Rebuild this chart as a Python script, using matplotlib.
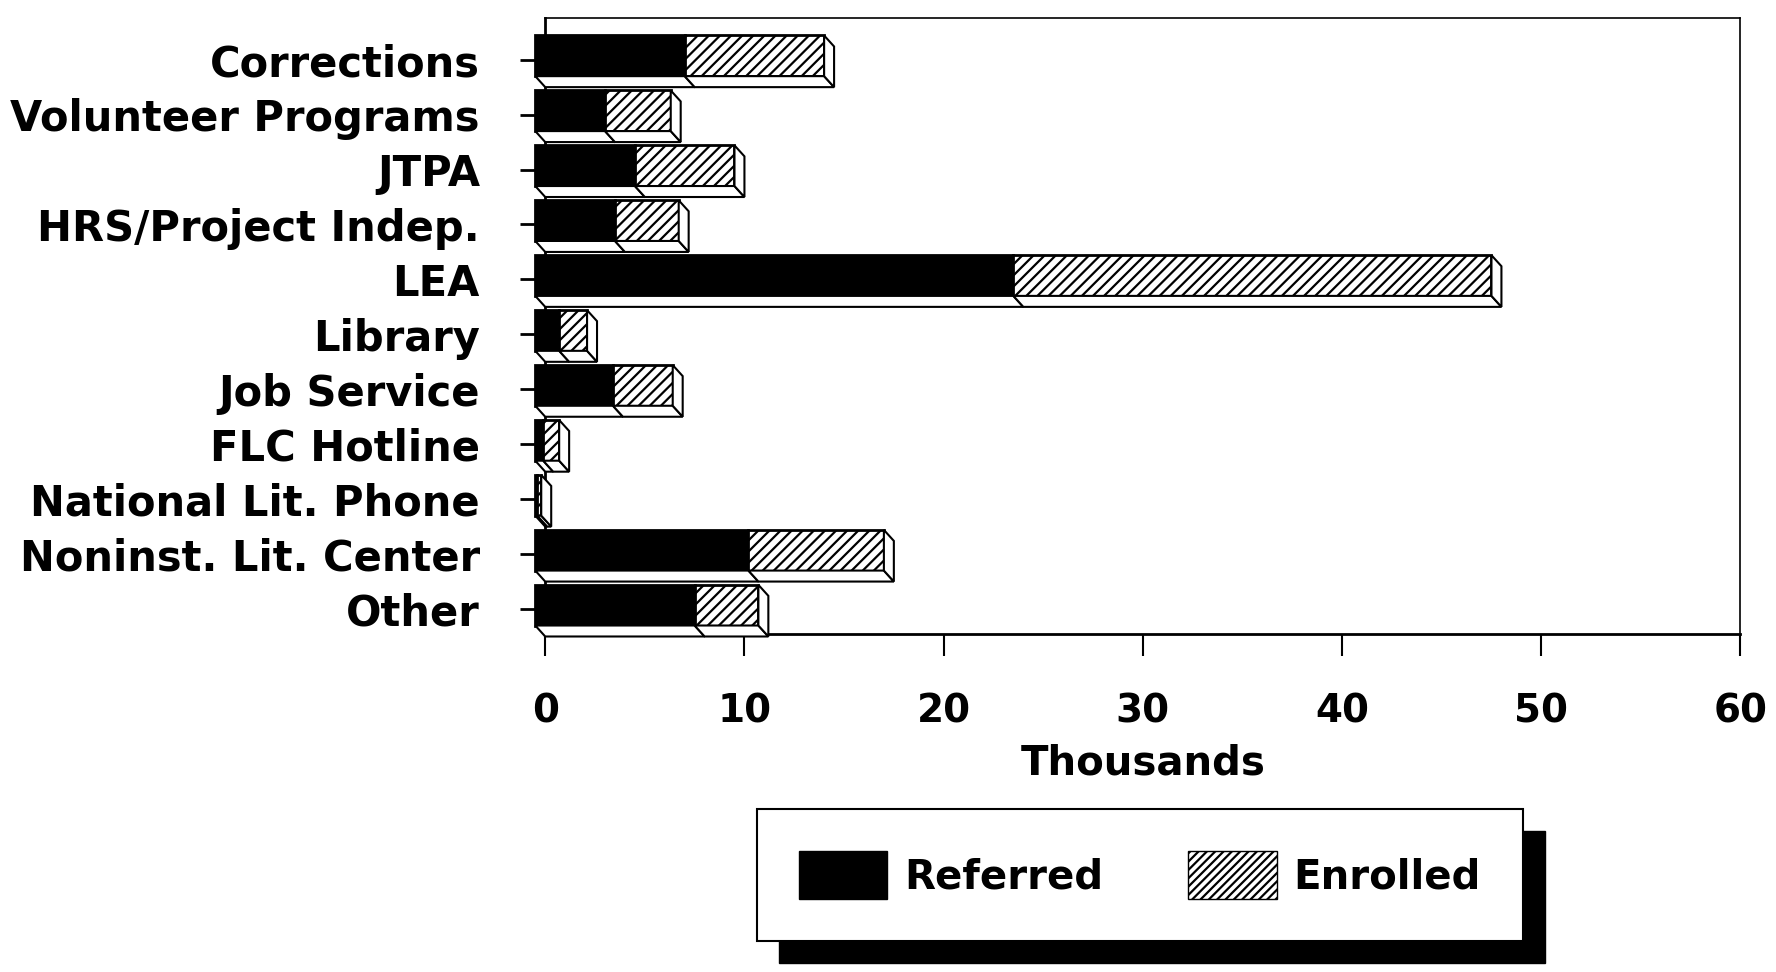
# stacked 3d-look bar chart: referrals vs enrollments by source
import numpy as np
import matplotlib.pyplot as plt
from matplotlib.patches import Patch, Rectangle
from matplotlib.transforms import IdentityTransform

categories = ['Corrections', 'Volunteer Programs', 'JTPA', 'HRS/Project Indep.', 'LEA',
              'Library', 'Job Service', 'FLC Hotline', 'National Lit. Phone',
              'Noninst. Lit. Center', 'Other']
referred = [7.5, 3.5, 5.0, 4.0, 24.0, 1.2, 3.9, 0.4, 0.1, 10.7, 8.0]   # thousands
enrolled = [7.0, 3.3, 5.0, 3.2, 24.0, 1.4, 3.0, 0.8, 0.2, 6.8, 3.2]
xticks = [0, 10, 20, 30, 40, 50, 60]
series = ['Referred', 'Enrolled']

plt.rcParams['font.family'] = 'DejaVu Sans'
plt.rcParams['font.weight'] = 'bold'
plt.rcParams['hatch.linewidth'] = 1.6

fig, ax = plt.subplots(figsize=(17.76, 9.72), dpi=100)
fig.subplots_adjust(left=0.307, right=0.980, bottom=0.348, top=0.981)

dx = 0.5    # depth of bars in x (thousands)
dy = 0.2    # depth of bars in y (category units)
h = 0.74
ref = np.array(referred)
enr = np.array(enrolled)
y = np.arange(len(categories)) - 0.07

# front faces
ax.barh(y, ref, left=-dx, height=h, color='black', edgecolor='black',
        linewidth=2, zorder=3, clip_on=False)
ax.barh(y, enr, left=ref - dx, height=h, color='white', edgecolor='black',
        hatch='///', linewidth=2, zorder=3, clip_on=False)

# bottom and side faces
for i in range(len(categories)):
    top = y[i] - h / 2
    bot = y[i] + h / 2
    x0 = -dx
    x1 = ref[i] - dx
    x2 = ref[i] + enr[i] - dx
    for a, b in [(x0, x1), (x1, x2)]:
        ax.fill([a, b, b + dx, a + dx], [bot, bot, bot + dy, bot + dy],
                facecolor='white', edgecolor='black', linewidth=1.5,
                zorder=3, clip_on=False)
    ax.fill([x2, x2 + dx, x2 + dx, x2], [top, top + dy, bot + dy, bot],
            facecolor='white', edgecolor='black', linewidth=1.5,
            zorder=3, clip_on=False)

ax.set_xlim(0, 60)
ax.set_ylim(10.45, -0.75)
ax.set_xticks(xticks)
ax.set_yticks(np.arange(len(categories)))
ax.set_yticklabels(categories, fontsize=30)
ax.tick_params(axis='y', length=18, width=2, pad=29)
ax.tick_params(axis='x', labelsize=28, length=16, width=1.5, pad=26)
ax.set_xlabel('Thousands', fontsize=29, fontweight='bold', labelpad=10)
for s in ['left', 'bottom']:
    ax.spines[s].set_linewidth(2)
for s in ['top', 'right']:
    ax.spines[s].set_linewidth(1.2)

# legend with a solid black drop shadow
handles = [Patch(facecolor='black', edgecolor='black'),
           Patch(facecolor='white', edgecolor='black', hatch='////')]
leg = fig.legend(handles, series, loc='upper left', bbox_to_anchor=(0.426, 0.168),
                 ncol=2, fontsize=29, frameon=True, fancybox=False, edgecolor='black',
                 framealpha=1, handlelength=2.2, handleheight=1.45, handletextpad=0.42,
                 columnspacing=2.1, borderpad=1.05, borderaxespad=0)
leg.get_frame().set_linewidth(1.5)
fig.canvas.draw()
bb = leg.get_window_extent()
fig.add_artist(Rectangle((bb.x0 + 22, bb.y0 - 22), bb.width, bb.height,
                         transform=IdentityTransform(), color='black', zorder=4))

fig.savefig('out.png', dpi=100)
plt.close()
